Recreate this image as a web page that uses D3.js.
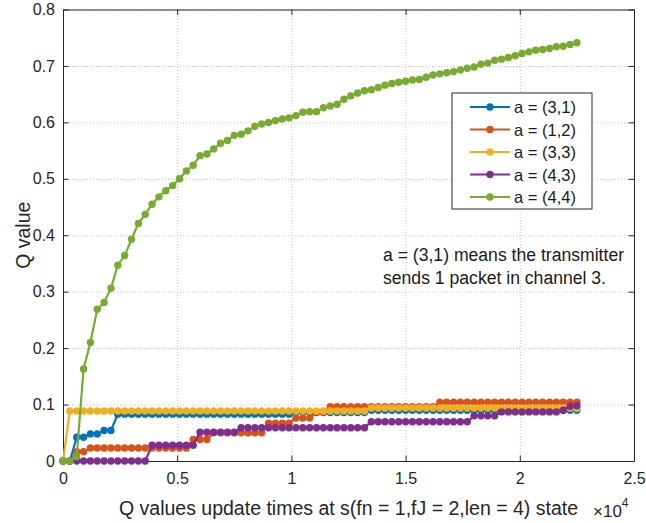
<!DOCTYPE html>
<html>
<head>
<meta charset="utf-8">
<script src="https://cdn.jsdelivr.net/npm/d3@7"></script>
<style>
  body { margin: 0; background: #fff; }
  svg { display: block; font-family: "Liberation Sans", Arial, Helvetica, sans-serif; }
  .tick text { font-size: 16px; fill: #262626; }
  .tick line, .domain { stroke: #262626; }
  .grid .tick line { stroke: #c4c4c4; stroke-dasharray: 1,2; }
  .grid .domain { display: none; }
  .axis-title { font-size: 19.5px; fill: #262626; }
  .legend-text { font-size: 16.5px; fill: #1a1a1a; }
  .note-text { font-size: 17.6px; fill: #1a1a1a; }
</style>
</head>
<body>
<svg id="chart" width="646" height="523"></svg>
<script>
// update times (x axis), one sample every 300 updates
const updateTimes = [
  0, 300, 600, 900, 1200, 1500, 1800, 2100, 2400, 2700,
  3000, 3300, 3600, 3900, 4200, 4500, 4800, 5100, 5400, 5700,
  6000, 6300, 6600, 6900, 7200, 7500, 7800, 8100, 8400, 8700,
  9000, 9300, 9600, 9900, 10200, 10500, 10800, 11100, 11400, 11700,
  12000, 12300, 12600, 12900, 13200, 13500, 13800, 14100, 14400, 14700,
  15000, 15300, 15600, 15900, 16200, 16500, 16800, 17100, 17400, 17700,
  18000, 18300, 18600, 18900, 19200, 19500, 19800, 20100, 20400, 20700,
  21000, 21300, 21600, 21900, 22200, 22500
];

const seriesNames = ["a = (3,1)", "a = (1,2)", "a = (3,3)", "a = (4,3)", "a = (4,4)"];
const seriesColors = ["#0072BD", "#D95319", "#EDB120", "#7E2F8E", "#77AC30"];

const q31 = [
  0, 0, 0.042, 0.042, 0.048, 0.048, 0.054, 0.054, 0.083, 0.083,
  0.083, 0.083, 0.083, 0.083, 0.083, 0.083, 0.083, 0.083, 0.083, 0.083,
  0.083, 0.083, 0.083, 0.083, 0.083, 0.083, 0.083, 0.083, 0.083, 0.083,
  0.083, 0.083, 0.083, 0.083, 0.086, 0.086, 0.086, 0.086, 0.086, 0.086,
  0.086, 0.086, 0.086, 0.086, 0.086, 0.090, 0.090, 0.090, 0.090, 0.090,
  0.090, 0.090, 0.090, 0.090, 0.090, 0.090, 0.090, 0.090, 0.090, 0.090,
  0.090, 0.090, 0.090, 0.090, 0.090, 0.090, 0.090, 0.090, 0.090, 0.090,
  0.090, 0.090, 0.090, 0.090, 0.090, 0.090
];

const q12 = [
  0, 0, 0.0165, 0.0165, 0.023, 0.023, 0.023, 0.023, 0.023, 0.023,
  0.023, 0.023, 0.023, 0.023, 0.023, 0.023, 0.023, 0.023, 0.023, 0.038,
  0.038, 0.038, 0.050, 0.050, 0.050, 0.050, 0.050, 0.050, 0.050, 0.050,
  0.067, 0.067, 0.067, 0.067, 0.076, 0.076, 0.076, 0.087, 0.087, 0.096,
  0.096, 0.096, 0.096, 0.096, 0.096, 0.096, 0.096, 0.096, 0.096, 0.096,
  0.096, 0.096, 0.096, 0.096, 0.096, 0.104, 0.104, 0.104, 0.104, 0.104,
  0.104, 0.104, 0.104, 0.104, 0.104, 0.104, 0.104, 0.104, 0.104, 0.104,
  0.104, 0.104, 0.104, 0.104, 0.104, 0.104
];

const q33 = [
  0, 0.0886, 0.0886, 0.0886, 0.0886, 0.0886, 0.0886, 0.0886, 0.0886, 0.0886,
  0.0886, 0.0886, 0.0886, 0.0886, 0.0886, 0.0886, 0.0886, 0.0886, 0.0886, 0.0886,
  0.0886, 0.0886, 0.0886, 0.0886, 0.0886, 0.0886, 0.0886, 0.0886, 0.0886, 0.0886,
  0.0886, 0.0886, 0.0886, 0.0886, 0.0886, 0.0886, 0.0886, 0.0886, 0.0886, 0.0886,
  0.0886, 0.0886, 0.0886, 0.0886, 0.0886, 0.094, 0.094, 0.094, 0.094, 0.094,
  0.094, 0.094, 0.094, 0.094, 0.094, 0.094, 0.094, 0.094, 0.094, 0.094,
  0.094, 0.094, 0.094, 0.094, 0.094, 0.094, 0.094, 0.094, 0.094, 0.094,
  0.094, 0.094, 0.094, 0.094, 0.094, 0.093
];

const q43 = [
  0, 0, 0, 0, 0, 0, 0, 0, 0, 0,
  0, 0, 0, 0.028, 0.028, 0.028, 0.028, 0.028, 0.028, 0.028,
  0.051, 0.051, 0.051, 0.051, 0.051, 0.051, 0.059, 0.059, 0.059, 0.059,
  0.059, 0.059, 0.059, 0.059, 0.059, 0.059, 0.059, 0.059, 0.059, 0.059,
  0.059, 0.059, 0.059, 0.059, 0.059, 0.0696, 0.0696, 0.0696, 0.0696, 0.0696,
  0.0696, 0.0696, 0.0696, 0.0696, 0.0696, 0.0696, 0.0696, 0.0696, 0.0696, 0.0696,
  0.080, 0.080, 0.080, 0.080, 0.087, 0.087, 0.087, 0.087, 0.087, 0.087,
  0.087, 0.087, 0.087, 0.090, 0.097, 0.098
];

const q44 = [
  0, 0, 0.008, 0.163, 0.210, 0.269, 0.281, 0.306, 0.347, 0.364,
  0.393, 0.421, 0.437, 0.455, 0.468, 0.479, 0.488, 0.500, 0.514, 0.524,
  0.541, 0.544, 0.553, 0.563, 0.568, 0.577, 0.579, 0.585, 0.593, 0.597,
  0.600, 0.603, 0.606, 0.608, 0.612, 0.618, 0.619, 0.619, 0.626, 0.629,
  0.632, 0.641, 0.647, 0.652, 0.656, 0.658, 0.662, 0.666, 0.669, 0.671,
  0.673, 0.675, 0.676, 0.680, 0.684, 0.686, 0.688, 0.690, 0.693, 0.696,
  0.698, 0.703, 0.705, 0.710, 0.712, 0.715, 0.718, 0.722, 0.725, 0.728,
  0.729, 0.731, 0.734, 0.735, 0.738, 0.741
];

const xTicks = [0, 5000, 10000, 15000, 20000, 25000];
const xTickLabels = ["0", "0.5", "1", "1.5", "2", "2.5"];
const yTicks = [0, 0.1, 0.2, 0.3, 0.4, 0.5, 0.6, 0.7, 0.8];
const yTickLabels = ["0", "0.1", "0.2", "0.3", "0.4", "0.5", "0.6", "0.7", "0.8"];

const noteLines = ["a = (3,1) means the transmitter", "sends 1 packet in channel 3."];

const dims = { left: 63, right: 634, top: 9.5, bottom: 461 };

const svg = d3.select("#chart");

const x = d3.scaleLinear().domain([0, 25000]).range([dims.left, dims.right]);
const y = d3.scaleLinear().domain([0, 0.8]).range([dims.bottom, dims.top]);

function writeGrid(svg) {
  svg.append("g")
    .attr("class", "grid")
    .attr("transform", `translate(0,${dims.bottom})`)
    .call(d3.axisBottom(x).tickValues(xTicks).tickSize(-(dims.bottom - dims.top)).tickFormat(""));
  svg.append("g")
    .attr("class", "grid")
    .attr("transform", `translate(${dims.left},0)`)
    .call(d3.axisLeft(y).tickValues(yTicks).tickSize(-(dims.right - dims.left)).tickFormat(""));
}

function writeAxes(svg) {
  svg.append("g")
    .attr("transform", `translate(0,${dims.bottom})`)
    .call(d3.axisBottom(x).tickValues(xTicks).tickSizeInner(-5.5).tickSizeOuter(0).tickPadding(12)
      .tickFormat((d, i) => xTickLabels[i]));
  svg.append("g")
    .attr("transform", `translate(${dims.left},0)`)
    .call(d3.axisLeft(y).tickValues(yTicks).tickSizeInner(-5.5).tickSizeOuter(0).tickPadding(8)
      .tickFormat((d, i) => yTickLabels[i]));
  svg.append("g")
    .attr("transform", `translate(0,${dims.top})`)
    .call(d3.axisTop(x).tickValues(xTicks).tickSizeInner(-5.5).tickSizeOuter(0).tickFormat(""));
  svg.append("g")
    .attr("transform", `translate(${dims.right},0)`)
    .call(d3.axisRight(y).tickValues(yTicks).tickSizeInner(-5.5).tickSizeOuter(0).tickFormat(""));
  svg.selectAll(".domain").attr("stroke-width", 1);
}

function writeSeries(svg, allSeries) {
  const line = d3.line()
    .x((d, i) => x(updateTimes[i]))
    .y(d => y(d));

  allSeries.forEach((values, s) => {
    const g = svg.append("g").attr("class", "series-" + s);
    g.append("path")
      .datum(values)
      .attr("fill", "none")
      .attr("stroke", seriesColors[s])
      .attr("stroke-width", 2.2)
      .attr("d", line);
    g.selectAll("circle")
      .data(values)
      .enter()
      .append("circle")
        .attr("cx", (d, i) => x(updateTimes[i]))
        .attr("cy", d => y(d))
        .attr("r", 3.7)
        .attr("fill", seriesColors[s]);
  });
}

function writeLegend(svg) {
  const lx = 452, ly = 93, lw = 140, lh = 116, rowH = 22.5;
  const lg = svg.append("g").attr("class", "legend");
  lg.append("rect")
    .attr("x", lx).attr("y", ly)
    .attr("width", lw).attr("height", lh)
    .attr("fill", "#fff")
    .attr("stroke", "#262626")
    .attr("stroke-width", 1);
  const rows = lg.selectAll(".legend-row")
    .data(seriesNames)
    .enter()
    .append("g")
      .attr("class", "legend-row")
      .attr("transform", (d, i) => `translate(0,${ly + 14 + i * rowH})`);
  rows.append("line")
    .attr("x1", lx + 18).attr("x2", lx + 58)
    .attr("stroke", (d, i) => seriesColors[i])
    .attr("stroke-width", 2.2);
  rows.append("circle")
    .attr("cx", lx + 38).attr("r", 3.7)
    .attr("fill", (d, i) => seriesColors[i]);
  rows.append("text")
    .attr("class", "legend-text")
    .attr("x", lx + 62)
    .attr("dominant-baseline", "central")
    .text(d => d);
}

function writeLabels(svg) {
  svg.append("text")
    .attr("class", "axis-title")
    .attr("x", (dims.left + dims.right) / 2)
    .attr("y", 515)
    .attr("text-anchor", "middle")
    .text("Q values update times at s(fn = 1,fJ = 2,len = 4) state");

  const exp = svg.append("text")
    .attr("x", 593)
    .attr("y", 517)
    .attr("fill", "#262626")
    .attr("font-size", "17px");
  exp.append("tspan").text("\u00d710");
  exp.append("tspan").attr("dy", -10).attr("font-size", "12px").text("4");

  svg.append("text")
    .attr("class", "axis-title")
    .attr("transform", `translate(30,${(dims.top + dims.bottom) / 2}) rotate(-90)`)
    .attr("text-anchor", "middle")
    .text("Q value");

  svg.append("g")
    .selectAll("text")
    .data(noteLines)
    .enter()
    .append("text")
      .attr("class", "note-text")
      .attr("x", 383)
      .attr("y", (d, i) => 261 + i * 23)
      .text(d => d);
}

writeGrid(svg);
writeAxes(svg);
writeSeries(svg, [q31, q12, q33, q43, q44]);
writeLegend(svg);
writeLabels(svg);
</script>
</body>
</html>
